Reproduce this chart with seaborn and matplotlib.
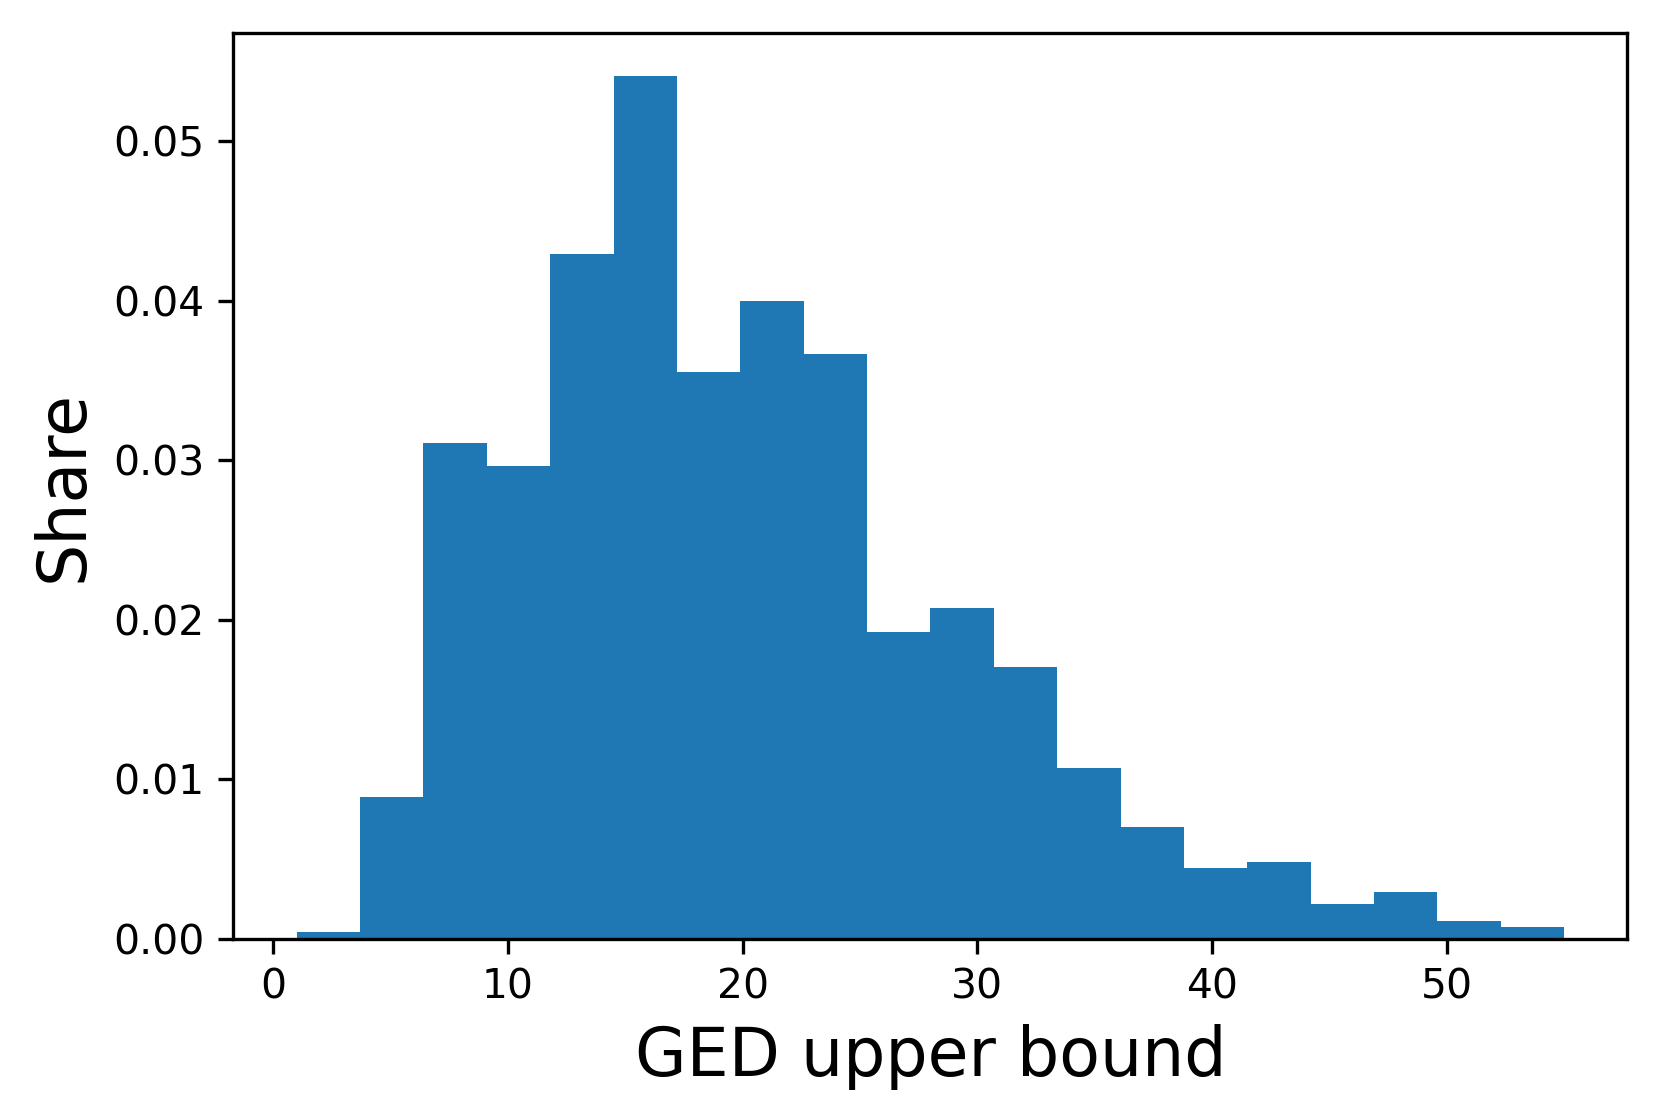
import numpy as np
import pandas as pd
import matplotlib
matplotlib.use("Agg")
import matplotlib.pyplot as plt
import seaborn as sns

# Histogram bin edges (20 bins from 1 to 55)
bin_edges = [1.0, 3.7, 6.4, 9.1, 11.8, 14.5, 17.2, 19.9, 22.6, 25.3, 28.0,
             30.7, 33.4, 36.1, 38.8, 41.5, 44.2, 46.9, 49.6, 52.3, 55.0]
# Share (density) per bin
share = [0.0004, 0.0089, 0.03106, 0.02962, 0.0429, 0.05405, 0.03551, 0.03996,
         0.03664, 0.01923, 0.02073, 0.01703, 0.01069, 0.00699, 0.00441, 0.00479,
         0.00215, 0.00291, 0.00109, 0.00071]

xlabel = "GED upper bound"
ylabel = "Share"

centers = [(a + b) / 2 for a, b in zip(bin_edges[:-1], bin_edges[1:])]
df = pd.DataFrame({"ged": centers, "share": share})

fig = plt.figure(figsize=(1661 / 300, 1119 / 300), dpi=300)
ax = fig.add_axes([0.1405, 0.1613, 0.8393, 0.8089])

sns.histplot(data=df, x="ged", weights="share", bins=bin_edges, stat="count",
             color="#1f77b4", alpha=1.0, linewidth=0, edgecolor="none", ax=ax)

ax.set_xlabel(xlabel, fontsize=16)
ax.set_ylabel(ylabel, fontsize=16)
ax.tick_params(axis="both", labelsize=9.8)
ax.set_xticks([0, 10, 20, 30, 40, 50])
ax.set_yticks([0.0, 0.01, 0.02, 0.03, 0.04, 0.05])
ax.set_yticklabels(["0.00", "0.01", "0.02", "0.03", "0.04", "0.05"])

fig.savefig("out.png", dpi=300)
